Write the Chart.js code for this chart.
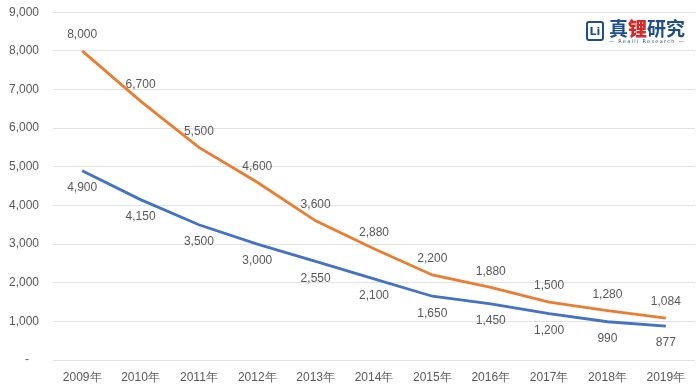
<!DOCTYPE html>
<html>
<head>
<meta charset="utf-8">
<style>
  body { margin: 0; background: #fff; overflow: hidden; width: 700px; height: 392px; position: relative; }
  #lineChart { position: absolute; left: 0; top: -9px; }
  .logo { position: absolute; left: 586px; top: 18px; display: flex; align-items: center; font-family: "Noto Sans CJK SC", sans-serif; }
  .logo .box { width: 18px; height: 20px; border: 2.5px solid #1f4e8c; border-radius: 3px; color: #1f4e8c; font: bold 11px "DejaVu Sans", sans-serif; display: flex; align-items: center; justify-content: center; box-sizing: border-box; margin-right: 5px; }
  .logo .name { font-size: 19px; font-weight: bold; color: #1f4e8c; line-height: 19px; letter-spacing: 0px; }
  .logo .name b { color: #d62828; }
  .logo .sub { font: 5px "DejaVu Sans", sans-serif; color: #1f4e8c; letter-spacing: 1.3px; text-align: center; margin-top: 1px; }
</style>
</head>
<body>
<canvas id="lineChart" width="700" height="401"></canvas>
<div class="logo">
  <div class="box">Li</div>
  <div>
    <div class="name">真<b>锂</b>研究</div>
    <div class="sub">— Realli Research —</div>
  </div>
</div>

<script src="https://cdn.jsdelivr.net/npm/chart.js"></script>
<script>
const years = ['2009年','2010年','2011年','2012年','2013年','2014年','2015年','2016年','2017年','2018年','2019年'];
const orangeValues = [8000, 6700, 5500, 4600, 3600, 2880, 2200, 1880, 1500, 1280, 1084];
const blueValues = [4900, 4150, 3500, 3000, 2550, 2100, 1650, 1450, 1200, 990, 877];
const yTicks = [0, 1000, 2000, 3000, 4000, 5000, 6000, 7000, 8000, 9000];

// draws value labels above (orange) / below (blue) each point
const valueLabels = {
  id: 'valueLabels',
  afterDatasetsDraw(chart) {
    const ctx = chart.ctx;
    ctx.save();
    ctx.font = '12px "Liberation Sans", Arial, sans-serif';
    ctx.fillStyle = '#595959';
    ctx.textAlign = 'center';
    ctx.textBaseline = 'middle';
    chart.data.datasets.forEach((ds, i) => {
      const meta = chart.getDatasetMeta(i);
      meta.data.forEach((pt, j) => {
        const off = ds.labelPos === 'above' ? -16 : 17;
        ctx.fillText(ds.data[j].toLocaleString('en-US'), pt.x, pt.y + off);
      });
    });
    ctx.restore();
  }
};

new Chart(document.getElementById('lineChart'), {
  type: 'line',
  data: {
    labels: years,
    datasets: [
      {
        data: orangeValues,
        borderColor: '#EB7D32',
        borderWidth: 2.8,
        pointRadius: 0,
        tension: 0,
        labelPos: 'above'
      },
      {
        data: blueValues,
        borderColor: '#4472C4',
        borderWidth: 2.8,
        pointRadius: 0,
        tension: 0,
        labelPos: 'below'
      }
    ]
  },
  options: {
    responsive: false,
    animation: false,
    layout: { padding: { top: 2, right: 5, bottom: 0, left: 0 } },
    plugins: {
      legend: { display: false },
      tooltip: { enabled: false }
    },
    scales: {
      x: {
        offset: true,
        grid: { display: false, drawTicks: false },
        border: { display: false },
        ticks: {
          color: '#595959',
          font: { size: 12, family: '"Liberation Sans", Arial, sans-serif' },
          padding: 10,
          maxRotation: 0
        },
        afterFit(scale) { scale.height = 32; }
      },
      y: {
        min: 0,
        max: 9000,
        afterBuildTicks(scale) { scale.ticks = yTicks.map(v => ({ value: v })); },
        grid: { color: '#e3e3e3', drawTicks: false },
        border: { display: false },
        ticks: {
          color: '#595959',
          font: { size: 12, family: '"Liberation Sans", Arial, sans-serif' },
          padding: 14,
          callback: v => v === 0 ? '-   ' : v.toLocaleString('en-US')
        },
        afterFit(scale) { scale.width = 53; }
      }
    }
  },
  plugins: [valueLabels]
});
</script>
</body>
</html>
